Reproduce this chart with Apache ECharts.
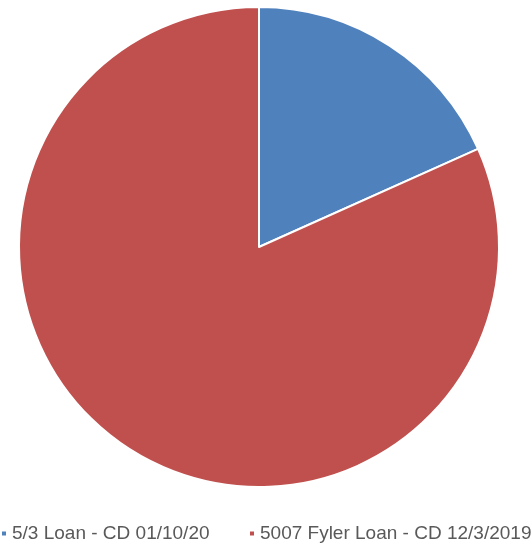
<!DOCTYPE html>
<html><head><meta charset="utf-8">
<script src="https://cdn.jsdelivr.net/npm/echarts@6/dist/echarts.min.js"></script>
<style>html,body{margin:0;padding:0;background:#fff}#c{width:531px;height:546px}</style>
</head><body><div id="c"></div>
<script>
const categories = ["5/3 Loan - CD 01/10/20", "5007 Fyler Loan - CD 12/3/2019"];
const values = [18.3, 81.7];
const colors = ["#4F81BD", "#C0504D"];
const legendLeft = [0, 248];
const chart = echarts.init(document.getElementById('c'));
chart.setOption({
  animation: false,
  color: colors,
  legend: categories.map((n, i) => ({
    top: 524, left: legendLeft[i], padding: 0,
    icon: 'rect', itemWidth: 6, itemHeight: 6, itemGap: 5,
    textStyle: { fontFamily: 'Liberation Sans', fontSize: 19, color: '#595959' },
    data: [n]
  })),
  series: [{
    type: 'pie',
    center: [259, 247],
    radius: [0, 240],
    startAngle: 90,
    clockwise: true,
    label: { show: false },
    labelLine: { show: false },
    itemStyle: { borderColor: '#fff', borderWidth: 2 },
    data: categories.map((n, i) => ({ name: n, value: values[i] }))
  }]
});
</script></body></html>
